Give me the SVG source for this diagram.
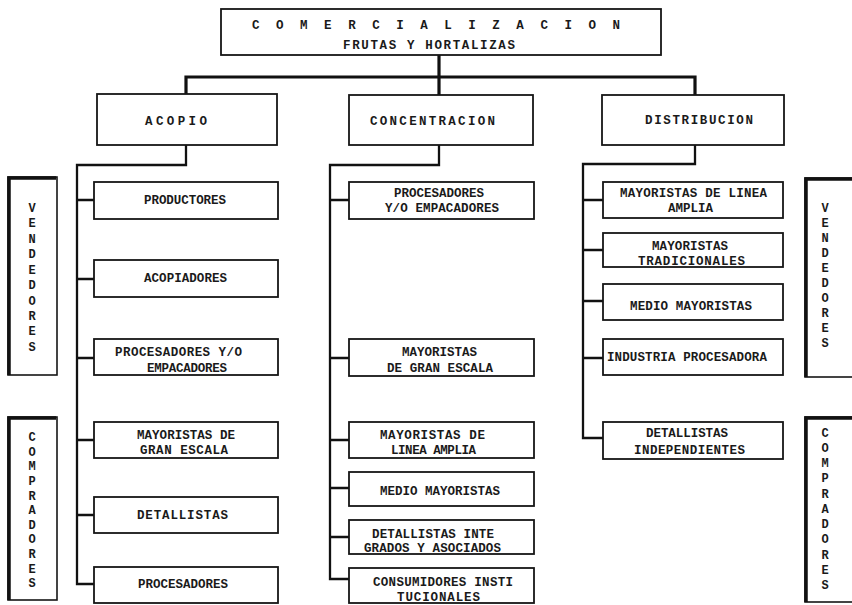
<svg xmlns="http://www.w3.org/2000/svg" width="852" height="605" viewBox="0 0 852 605">
<style>
.bx{fill:#fff;stroke:#161616;stroke-width:1.8}
.t{font-family:"Liberation Mono","DejaVu Sans Mono",monospace;font-size:12.5px;font-weight:bold;fill:#1a1a1a}
.v{font-family:"Liberation Mono","DejaVu Sans Mono",monospace;font-size:12px;font-weight:bold;fill:#1a1a1a;text-anchor:middle}
.c{fill:none;stroke:#111;stroke-width:2.3;stroke-linejoin:miter}
.ck{fill:none;stroke:#111;stroke-width:3.2}
.side{fill:#fff;stroke:#161616;stroke-width:1.6}
.heavy{fill:none;stroke:#111;stroke-width:3.5}
</style>
<rect width="852" height="605" fill="#fff"/>
<g id="connectors">
<path class="ck" d="M439 55 V95"/>
<path class="ck" d="M186 95 V77 H695 V95"/>
<path class="c" d="M186 145 V165 H77 V584 H94"/>
<path class="c" d="M77 200 H94 M77 279 H94 M77 358 H94 M77 440 H94 M77 515 H94"/>
<path class="c" d="M439 145 V165 H330 V579 H349"/>
<path class="c" d="M330 200 H349 M330 358 H349 M330 440 H349 M330 488 H349 M330 537 H349"/>
<path class="c" d="M695 145 V164 H583 V438 H603"/>
<path class="c" d="M583 200 H603 M583 250 H603 M583 301 H603 M583 358 H603"/>
</g>
<g id="n-top">
<rect class="bx" x="221" y="9" width="440" height="46"/>
<text class="t" x="252" y="29" textLength="368" lengthAdjust="spacing">C O M E R C I A L I Z A C I O N</text>
<text class="t" x="343" y="49" textLength="172" lengthAdjust="spacing">FRUTAS Y HORTALIZAS</text>
</g>
<g id="n-acopio">
<rect class="bx" x="97" y="94" width="180" height="51"/>
<text class="t" x="145" y="125" textLength="62" lengthAdjust="spacing">ACOPIO</text>
</g>
<g id="n-concentracion">
<rect class="bx" x="349" y="95" width="184" height="50"/>
<text class="t" x="370" y="125" textLength="125" lengthAdjust="spacing">CONCENTRACION</text>
</g>
<g id="n-distribucion">
<rect class="bx" x="602" y="95" width="182" height="50"/>
<text class="t" x="645" y="124" textLength="108" lengthAdjust="spacing">DISTRIBUCION</text>
</g>
<g id="n-a1"><rect class="bx" x="94" y="182" width="184" height="37"/>
<text class="t" x="144" y="204" textLength="82" lengthAdjust="spacing">PRODUCTORES</text></g>
<g id="n-a2"><rect class="bx" x="94" y="260" width="184" height="37"/>
<text class="t" x="144" y="282" textLength="83" lengthAdjust="spacing">ACOPIADORES</text></g>
<g id="n-a3"><rect class="bx" x="94" y="339" width="184" height="36"/>
<text class="t" x="115" y="356" textLength="127" lengthAdjust="spacing">PROCESADORES  Y/O</text>
<text class="t" x="147" y="372" textLength="80" lengthAdjust="spacing">EMPACADORES</text></g>
<g id="n-a4"><rect class="bx" x="94" y="422" width="184" height="36"/>
<text class="t" x="137" y="439" textLength="98" lengthAdjust="spacing">MAYORISTAS DE</text>
<text class="t" x="140" y="454" textLength="88" lengthAdjust="spacing">GRAN ESCALA</text></g>
<g id="n-a5"><rect class="bx" x="94" y="497" width="184" height="36"/>
<text class="t" x="137" y="519" textLength="91" lengthAdjust="spacing">DETALLISTAS</text></g>
<g id="n-a6"><rect class="bx" x="94" y="567" width="184" height="36"/>
<text class="t" x="138" y="588" textLength="90" lengthAdjust="spacing">PROCESADORES</text></g>
<g id="n-c1"><rect class="bx" x="349" y="182" width="185" height="37"/>
<text class="t" x="394" y="197" textLength="90" lengthAdjust="spacing">PROCESADORES</text>
<text class="t" x="385" y="212" textLength="114" lengthAdjust="spacing">Y/O EMPACADORES</text></g>
<g id="n-c2"><rect class="bx" x="349" y="339" width="185" height="37"/>
<text class="t" x="402" y="356" textLength="75" lengthAdjust="spacing">MAYORISTAS</text>
<text class="t" x="387" y="372" textLength="106" lengthAdjust="spacing">DE GRAN ESCALA</text></g>
<g id="n-c3"><rect class="bx" x="349" y="422" width="185" height="36"/>
<text class="t" x="380" y="439" textLength="105" lengthAdjust="spacing">MAYORISTAS  DE</text>
<text class="t" x="391" y="454" textLength="85" lengthAdjust="spacing">LINEA AMPLIA</text></g>
<g id="n-c4"><rect class="bx" x="349" y="472" width="185" height="34"/>
<text class="t" x="380" y="495" textLength="120" lengthAdjust="spacing">MEDIO MAYORISTAS</text></g>
<g id="n-c5"><rect class="bx" x="349" y="520" width="185" height="34"/>
<text class="t" x="372" y="538" textLength="122" lengthAdjust="spacing">DETALLISTAS INTE</text>
<text class="t" x="364" y="552" textLength="137" lengthAdjust="spacing">GRADOS Y ASOCIADOS</text></g>
<g id="n-c6"><rect class="bx" x="349" y="568" width="185" height="35"/>
<text class="t" x="373" y="586" textLength="140" lengthAdjust="spacing">CONSUMIDORES INSTI</text>
<text class="t" x="397" y="601" textLength="83" lengthAdjust="spacing">TUCIONALES</text></g>
<g id="n-d1"><rect class="bx" x="603" y="182" width="180" height="36"/>
<text class="t" x="620" y="197" textLength="147" lengthAdjust="spacing">MAYORISTAS DE LINEA</text>
<text class="t" x="668" y="212" textLength="45" lengthAdjust="spacing">AMPLIA</text></g>
<g id="n-d2"><rect class="bx" x="603" y="233" width="180" height="34"/>
<text class="t" x="652" y="250" textLength="76" lengthAdjust="spacing">MAYORISTAS</text>
<text class="t" x="638" y="265" textLength="107" lengthAdjust="spacing">TRADICIONALES</text></g>
<g id="n-d3"><rect class="bx" x="603" y="284" width="180" height="36"/>
<text class="t" x="630" y="310" textLength="122" lengthAdjust="spacing">MEDIO MAYORISTAS</text></g>
<g id="n-d4"><rect class="bx" x="603" y="339" width="180" height="36"/>
<text class="t" x="607" y="361" textLength="160" lengthAdjust="spacing">INDUSTRIA PROCESADORA</text></g>
<g id="n-d5"><rect class="bx" x="603" y="422" width="180" height="37"/>
<text class="t" x="646" y="437" textLength="82" lengthAdjust="spacing">DETALLISTAS</text>
<text class="t" x="634" y="454" textLength="111" lengthAdjust="spacing">INDEPENDIENTES</text></g>
<g id="n-vend-left">
<rect class="side" x="8" y="177" width="49" height="198"/>
<path class="heavy" d="M9 375 V178 H56"/>
<text class="v" x="32" y="212">V</text><text class="v" x="32" y="227">E</text><text class="v" x="32" y="243">N</text><text class="v" x="32" y="258">D</text><text class="v" x="32" y="274">E</text><text class="v" x="32" y="289">D</text><text class="v" x="32" y="305">O</text><text class="v" x="32" y="320">R</text><text class="v" x="32" y="335">E</text><text class="v" x="32" y="351">S</text>
</g>
<g id="n-comp-left">
<rect class="side" x="8" y="417" width="49" height="183"/>
<path class="heavy" d="M9 600 V418 H56"/>
<text class="v" x="32" y="441">C</text><text class="v" x="32" y="456">O</text><text class="v" x="32" y="470">M</text><text class="v" x="32" y="485">P</text><text class="v" x="32" y="500">R</text><text class="v" x="32" y="514">A</text><text class="v" x="32" y="529">D</text><text class="v" x="32" y="543">O</text><text class="v" x="32" y="558">R</text><text class="v" x="32" y="573">E</text><text class="v" x="32" y="587">S</text>
</g>
<g id="n-vend-right">
<rect class="side" x="805" y="178" width="50" height="199"/>
<path class="heavy" d="M806 377 V179 H852"/>
<text class="v" x="825" y="212">V</text><text class="v" x="825" y="227">E</text><text class="v" x="825" y="242">N</text><text class="v" x="825" y="257">D</text><text class="v" x="825" y="272">E</text><text class="v" x="825" y="287">D</text><text class="v" x="825" y="302">O</text><text class="v" x="825" y="317">R</text><text class="v" x="825" y="332">E</text><text class="v" x="825" y="347">S</text>
</g>
<g id="n-comp-right">
<rect class="side" x="805" y="417" width="50" height="185"/>
<path class="heavy" d="M806 602 V418 H852"/>
<text class="v" x="825" y="437">C</text><text class="v" x="825" y="452">O</text><text class="v" x="825" y="467">M</text><text class="v" x="825" y="482">P</text><text class="v" x="825" y="498">R</text><text class="v" x="825" y="513">A</text><text class="v" x="825" y="528">D</text><text class="v" x="825" y="543">O</text><text class="v" x="825" y="559">R</text><text class="v" x="825" y="574">E</text><text class="v" x="825" y="589">S</text>
</g>
</svg>
